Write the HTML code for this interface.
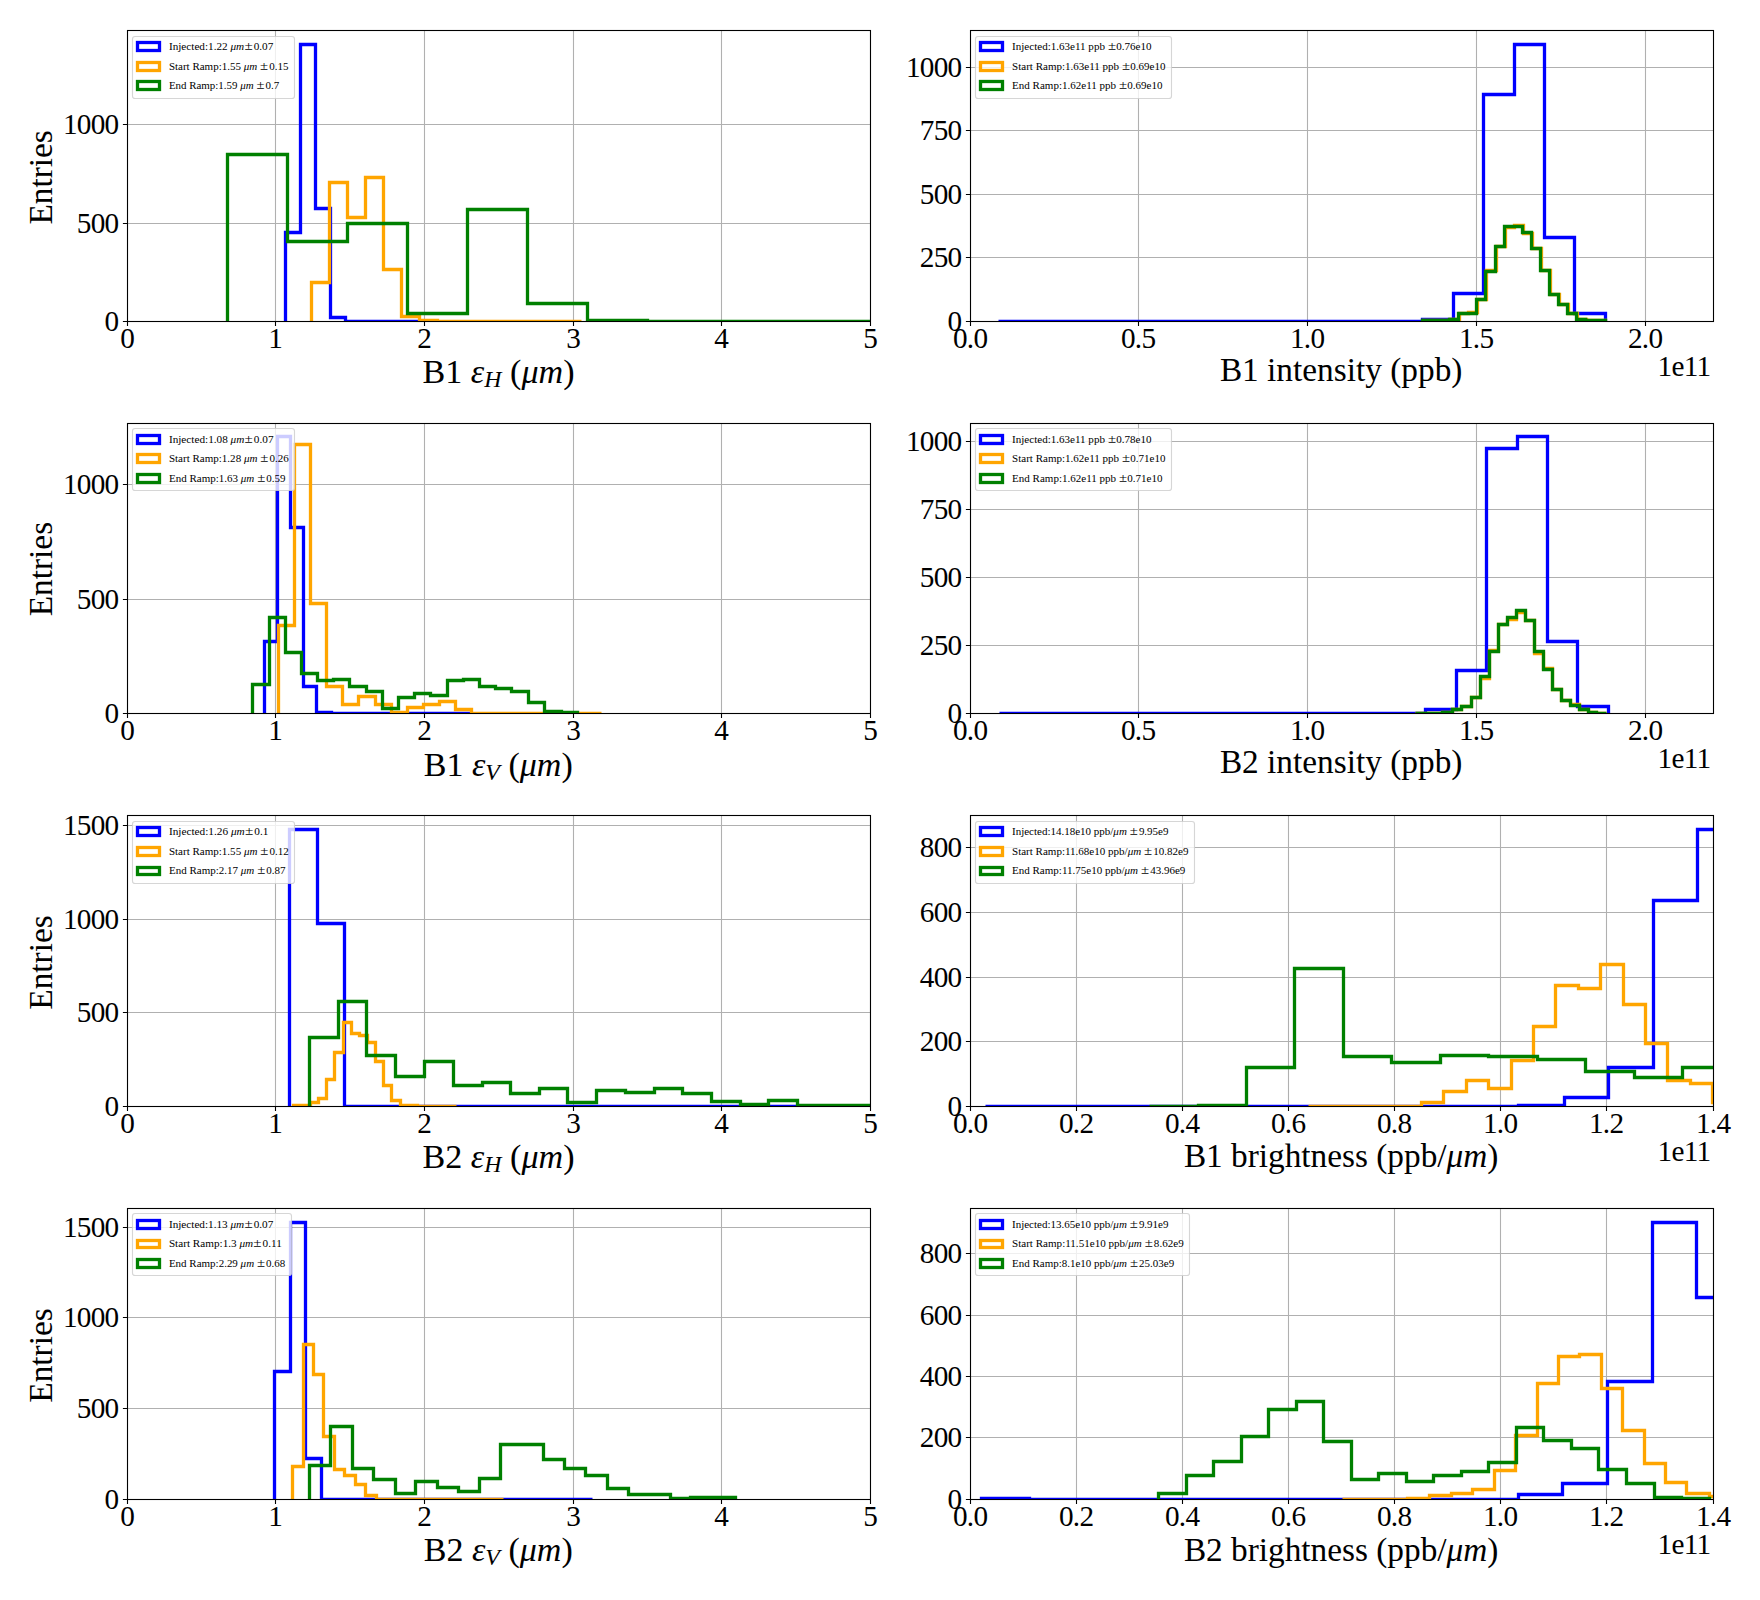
<!DOCTYPE html>
<html lang="en"><head><meta charset="utf-8"><title>Emittance, intensity and brightness histograms</title>
<style>html,body{margin:0;padding:0;background:#fff}body{width:1760px;height:1600px;overflow:hidden}svg{display:block}text{font-family:'Liberation Serif', serif;fill:#000;white-space:pre}</style>
</head><body>
<svg width="1760" height="1600" viewBox="0 0 1760 1600" role="img" aria-label="Histograms of emittance, intensity and brightness">
<rect width="1760" height="1600" fill="#fff"/>
<g id="panel1">
<clipPath id="c0"><rect x="127.5" y="30.5" width="743" height="291"/></clipPath>
<path d="M127.5 30.5V321.5M275.5 30.5V321.5M424.5 30.5V321.5M573.5 30.5V321.5M721.5 30.5V321.5M870.5 30.5V321.5M127.5 321.5H870.5M127.5 223.5H870.5M127.5 124.5H870.5" stroke="#b0b0b0" stroke-width="1.1" fill="none" clip-path="url(#c0)"/>
<g clip-path="url(#c0)" fill="none" stroke-width="3.3" stroke-linejoin="miter">
<path d="M285.5 321.5V232.5H300.5V44.5H315.5V208.5H330.5V317.5H345.5V321.5H420.5V321.5" stroke="#0000ff"/>
<path d="M311.5 321.5V282.5H329.5V182.5H347.5V217.5H365.5V177.5H383.5V269.5H401.5V316.5H419.5V320.5H437.5V321.5H581.5V321.5" stroke="#ffa500"/>
<path d="M227.5 321.5V154.5H287.5V241.5H347.5V223.5H407.5V313.5H467.5V209.5H527.5V303.5H587.5V320.5H647.5V321.5H900.5V321.5" stroke="#008000"/>
</g>
<path d="M127.5 321.5v4.6M275.5 321.5v4.6M424.5 321.5v4.6M573.5 321.5v4.6M721.5 321.5v4.6M870.5 321.5v4.6M127.5 321.5h-4.6M127.5 223.5h-4.6M127.5 124.5h-4.6" stroke="#000" stroke-width="1.1" fill="none"/>
<rect x="127.5" y="30.5" width="743" height="291" fill="none" stroke="#000" stroke-width="1.1"/>
<text id="p0x0" transform="translate(127.15 348.2) scale(1.0300 1)" font-size="28.4" text-anchor="middle" letter-spacing="-0.7" xml:space="preserve">0</text>
<text id="p0x1" transform="translate(275.15 348.2) scale(1.0300 1)" font-size="28.4" text-anchor="middle" letter-spacing="-0.7" xml:space="preserve">1</text>
<text id="p0x2" transform="translate(424.15 348.2) scale(1.0300 1)" font-size="28.4" text-anchor="middle" letter-spacing="-0.7" xml:space="preserve">2</text>
<text id="p0x3" transform="translate(573.15 348.2) scale(1.0300 1)" font-size="28.4" text-anchor="middle" letter-spacing="-0.7" xml:space="preserve">3</text>
<text id="p0x4" transform="translate(721.15 348.2) scale(1.0300 1)" font-size="28.4" text-anchor="middle" letter-spacing="-0.7" xml:space="preserve">4</text>
<text id="p0x5" transform="translate(870.15 348.2) scale(1.0300 1)" font-size="28.4" text-anchor="middle" letter-spacing="-0.7" xml:space="preserve">5</text>
<text id="p0y0" transform="translate(118.5 331.1) scale(1.0300 1)" font-size="28.4" text-anchor="end" letter-spacing="-0.7" xml:space="preserve">0</text>
<text id="p0y500" transform="translate(118.5 233.1) scale(1.0300 1)" font-size="28.4" text-anchor="end" letter-spacing="-0.7" xml:space="preserve">500</text>
<text id="p0y1000" transform="translate(118.5 134.1) scale(1.0300 1)" font-size="28.4" text-anchor="end" letter-spacing="-0.7" xml:space="preserve">1000</text>
<text id="p0xl" transform="translate(422.5 383.1) scale(1.0065 1)" font-size="33.9" text-anchor="start" xml:space="preserve"><tspan>B1 </tspan><tspan font-style="italic">ε</tspan><tspan font-style="italic" font-size="23.73" dy="4">H</tspan><tspan dy="-4"> (</tspan><tspan font-style="italic">μm</tspan><tspan>)</tspan></text>
<text id="p0yl" transform="translate(52.2 177.4) rotate(-90) scale(0.983 1)" font-size="33.9" text-anchor="middle">Entries</text>
<g id="legend1">
<rect x="132.5" y="36.5" width="162" height="62" rx="2.6" fill="#fff" fill-opacity="0.8" stroke="#ccc" stroke-opacity="0.8" stroke-width="1.1"/>
<rect x="137.5" y="42.5" width="22" height="8" fill="none" stroke="#0000ff" stroke-width="3.3"/>
<text id="p0l0" transform="translate(168.9 49.8) scale(1.1218 1)" font-size="10" text-anchor="start" xml:space="preserve"><tspan>Injected:1.22 </tspan><tspan font-style="italic">μm</tspan><tspan></tspan><tspan font-size="13.4" dx="0.2">±</tspan><tspan dx="0.9">0.07</tspan></text>
<rect x="137.5" y="62.5" width="22" height="8" fill="none" stroke="#ffa500" stroke-width="3.3"/>
<text id="p0l1" transform="translate(168.9 69.5) scale(1.1005 1)" font-size="10" text-anchor="start" xml:space="preserve"><tspan>Start Ramp:1.55 </tspan><tspan font-style="italic">μm</tspan><tspan> </tspan><tspan font-size="13.4" dx="0.2">±</tspan><tspan dx="0.9">0.15</tspan></text>
<rect x="137.5" y="81.5" width="22" height="8" fill="none" stroke="#008000" stroke-width="3.3"/>
<text id="p0l2" transform="translate(168.9 88.7) scale(1.0934 1)" font-size="10" text-anchor="start" xml:space="preserve"><tspan>End Ramp:1.59 </tspan><tspan font-style="italic">μm</tspan><tspan> </tspan><tspan font-size="13.4" dx="0.2">±</tspan><tspan dx="0.9">0.7</tspan></text>
</g>
</g>
<g id="panel2">
<clipPath id="c1"><rect x="970.5" y="30.5" width="743" height="291"/></clipPath>
<path d="M970.5 30.5V321.5M1138.5 30.5V321.5M1307.5 30.5V321.5M1476.5 30.5V321.5M1645.5 30.5V321.5M970.5 321.5H1713.5M970.5 257.5H1713.5M970.5 194.5H1713.5M970.5 130.5H1713.5M970.5 67.5H1713.5" stroke="#b0b0b0" stroke-width="1.1" fill="none" clip-path="url(#c1)"/>
<g clip-path="url(#c1)" fill="none" stroke-width="3.3" stroke-linejoin="miter">
<path d="M998.5 321.5V321.5H1422.5V319.5H1453.5V293.5H1483.5V94.5H1514.5V44.5H1544.5V237.5H1574.5V313.5H1605.5V321.5" stroke="#0000ff"/>
<path d="M1423.5 321.5V320.5H1450.5V319.5H1459.5V313.5H1468.5V312.5H1477.5V299.5H1486.5V270.5H1496.5V246.5H1505.5V227.5H1514.5V225.5H1523.5V233.5H1532.5V248.5H1541.5V270.5H1550.5V294.5H1559.5V304.5H1568.5V313.5H1577.5V319.5H1586.5V320.5H1605.5V321.5" stroke="#ffa500"/>
<path d="M1422.5 321.5V320.5H1449.5V319.5H1458.5V313.5H1476.5V299.5H1485.5V271.5H1495.5V246.5H1504.5V226.5H1522.5V232.5H1531.5V248.5H1540.5V270.5H1549.5V294.5H1558.5V304.5H1567.5V313.5H1576.5V319.5H1585.5V320.5H1605.5V321.5" stroke="#008000"/>
</g>
<path d="M970.5 321.5v4.6M1138.5 321.5v4.6M1307.5 321.5v4.6M1476.5 321.5v4.6M1645.5 321.5v4.6M970.5 321.5h-4.6M970.5 257.5h-4.6M970.5 194.5h-4.6M970.5 130.5h-4.6M970.5 67.5h-4.6" stroke="#000" stroke-width="1.1" fill="none"/>
<rect x="970.5" y="30.5" width="743" height="291" fill="none" stroke="#000" stroke-width="1.1"/>
<text id="p1x0_0" transform="translate(970.15 348.2) scale(1.0300 1)" font-size="28.4" text-anchor="middle" letter-spacing="-0.7" xml:space="preserve">0.0</text>
<text id="p1x0_5" transform="translate(1138.15 348.2) scale(1.0300 1)" font-size="28.4" text-anchor="middle" letter-spacing="-0.7" xml:space="preserve">0.5</text>
<text id="p1x1_0" transform="translate(1307.15 348.2) scale(1.0300 1)" font-size="28.4" text-anchor="middle" letter-spacing="-0.7" xml:space="preserve">1.0</text>
<text id="p1x1_5" transform="translate(1476.15 348.2) scale(1.0300 1)" font-size="28.4" text-anchor="middle" letter-spacing="-0.7" xml:space="preserve">1.5</text>
<text id="p1x2_0" transform="translate(1645.15 348.2) scale(1.0300 1)" font-size="28.4" text-anchor="middle" letter-spacing="-0.7" xml:space="preserve">2.0</text>
<text id="p1y0" transform="translate(961.5 331.1) scale(1.0300 1)" font-size="28.4" text-anchor="end" letter-spacing="-0.7" xml:space="preserve">0</text>
<text id="p1y250" transform="translate(961.5 267.1) scale(1.0300 1)" font-size="28.4" text-anchor="end" letter-spacing="-0.7" xml:space="preserve">250</text>
<text id="p1y500" transform="translate(961.5 204.1) scale(1.0300 1)" font-size="28.4" text-anchor="end" letter-spacing="-0.7" xml:space="preserve">500</text>
<text id="p1y750" transform="translate(961.5 140.1) scale(1.0300 1)" font-size="28.4" text-anchor="end" letter-spacing="-0.7" xml:space="preserve">750</text>
<text id="p1y1000" transform="translate(961.5 77.1) scale(1.0300 1)" font-size="28.4" text-anchor="end" letter-spacing="-0.7" xml:space="preserve">1000</text>
<text id="p1off" transform="translate(1710.4 376.1) scale(1.0300 1)" font-size="28.4" text-anchor="end" letter-spacing="-0.7" xml:space="preserve">1e11</text>
<text id="p1xl" transform="translate(1219.9 381) scale(0.9830 1)" font-size="33.9" text-anchor="start" xml:space="preserve"><tspan>B1 intensity (ppb)</tspan></text>
<g id="legend2">
<rect x="975.5" y="36.5" width="196" height="62" rx="2.6" fill="#fff" fill-opacity="0.8" stroke="#ccc" stroke-opacity="0.8" stroke-width="1.1"/>
<rect x="980.5" y="42.5" width="22" height="8" fill="none" stroke="#0000ff" stroke-width="3.3"/>
<text id="p1l0" transform="translate(1012.1 49.8) scale(1.1054 1)" font-size="10" text-anchor="start" xml:space="preserve"><tspan>Injected:1.63e11 ppb </tspan><tspan font-size="13.4" dx="0.2">±</tspan><tspan dx="0.2">0.76e10</tspan></text>
<rect x="980.5" y="62.5" width="22" height="8" fill="none" stroke="#ffa500" stroke-width="3.3"/>
<text id="p1l1" transform="translate(1012.1 69.5) scale(1.1018 1)" font-size="10" text-anchor="start" xml:space="preserve"><tspan>Start Ramp:1.63e11 ppb </tspan><tspan font-size="13.4" dx="0.2">±</tspan><tspan dx="0.2">0.69e10</tspan></text>
<rect x="980.5" y="81.5" width="22" height="8" fill="none" stroke="#008000" stroke-width="3.3"/>
<text id="p1l2" transform="translate(1012.1 88.7) scale(1.1023 1)" font-size="10" text-anchor="start" xml:space="preserve"><tspan>End Ramp:1.62e11 ppb </tspan><tspan font-size="13.4" dx="0.2">±</tspan><tspan dx="0.2">0.69e10</tspan></text>
</g>
</g>
<g id="panel3">
<clipPath id="c2"><rect x="127.5" y="423.5" width="743" height="290"/></clipPath>
<path d="M127.5 423.5V713.5M275.5 423.5V713.5M424.5 423.5V713.5M573.5 423.5V713.5M721.5 423.5V713.5M870.5 423.5V713.5M127.5 713.5H870.5M127.5 599.5H870.5M127.5 484.5H870.5" stroke="#b0b0b0" stroke-width="1.1" fill="none" clip-path="url(#c2)"/>
<g clip-path="url(#c2)" fill="none" stroke-width="3.3" stroke-linejoin="miter">
<path d="M264.5 713.5V641.5H277.5V436.5H290.5V527.5H303.5V686.5H316.5V712.5H331.5V713.5H471.5V713.5" stroke="#0000ff"/>
<path d="M278.5 713.5V625.5H294.5V444.5H310.5V603.5H326.5V686.5H342.5V704.5H358.5V696.5H375.5V704.5H391.5V712.5H407.5V707.5H423.5V704.5H439.5V701.5H455.5V709.5H471.5V713.5H601.5V713.5" stroke="#ffa500"/>
<path d="M252.5 713.5V684.5H269.5V617.5H285.5V652.5H301.5V673.5H317.5V680.5H333.5V679.5H349.5V686.5H366.5V691.5H382.5V708.5H398.5V697.5H414.5V693.5H430.5V695.5H447.5V680.5H463.5V679.5H479.5V686.5H495.5V688.5H511.5V691.5H528.5V702.5H544.5V711.5H561.5V712.5H577.5V713.5" stroke="#008000"/>
</g>
<path d="M127.5 713.5v4.6M275.5 713.5v4.6M424.5 713.5v4.6M573.5 713.5v4.6M721.5 713.5v4.6M870.5 713.5v4.6M127.5 713.5h-4.6M127.5 599.5h-4.6M127.5 484.5h-4.6" stroke="#000" stroke-width="1.1" fill="none"/>
<rect x="127.5" y="423.5" width="743" height="290" fill="none" stroke="#000" stroke-width="1.1"/>
<text id="p2x0" transform="translate(127.15 740.2) scale(1.0300 1)" font-size="28.4" text-anchor="middle" letter-spacing="-0.7" xml:space="preserve">0</text>
<text id="p2x1" transform="translate(275.15 740.2) scale(1.0300 1)" font-size="28.4" text-anchor="middle" letter-spacing="-0.7" xml:space="preserve">1</text>
<text id="p2x2" transform="translate(424.15 740.2) scale(1.0300 1)" font-size="28.4" text-anchor="middle" letter-spacing="-0.7" xml:space="preserve">2</text>
<text id="p2x3" transform="translate(573.15 740.2) scale(1.0300 1)" font-size="28.4" text-anchor="middle" letter-spacing="-0.7" xml:space="preserve">3</text>
<text id="p2x4" transform="translate(721.15 740.2) scale(1.0300 1)" font-size="28.4" text-anchor="middle" letter-spacing="-0.7" xml:space="preserve">4</text>
<text id="p2x5" transform="translate(870.15 740.2) scale(1.0300 1)" font-size="28.4" text-anchor="middle" letter-spacing="-0.7" xml:space="preserve">5</text>
<text id="p2y0" transform="translate(118.5 723.1) scale(1.0300 1)" font-size="28.4" text-anchor="end" letter-spacing="-0.7" xml:space="preserve">0</text>
<text id="p2y500" transform="translate(118.5 609.1) scale(1.0300 1)" font-size="28.4" text-anchor="end" letter-spacing="-0.7" xml:space="preserve">500</text>
<text id="p2y1000" transform="translate(118.5 494.1) scale(1.0300 1)" font-size="28.4" text-anchor="end" letter-spacing="-0.7" xml:space="preserve">1000</text>
<text id="p2xl" transform="translate(423.8 776) scale(1.0034 1)" font-size="33.9" text-anchor="start" xml:space="preserve"><tspan>B1 </tspan><tspan font-style="italic">ε</tspan><tspan font-style="italic" font-size="23.73" dy="4">V</tspan><tspan dy="-4"> (</tspan><tspan font-style="italic">μm</tspan><tspan>)</tspan></text>
<text id="p2yl" transform="translate(52.2 569.1) rotate(-90) scale(0.983 1)" font-size="33.9" text-anchor="middle">Entries</text>
<g id="legend3">
<rect x="132.5" y="428.5" width="162" height="62" rx="2.6" fill="#fff" fill-opacity="0.8" stroke="#ccc" stroke-opacity="0.8" stroke-width="1.1"/>
<rect x="137.5" y="435.5" width="22" height="8" fill="none" stroke="#0000ff" stroke-width="3.3"/>
<text id="p2l0" transform="translate(168.9 442.9) scale(1.1237 1)" font-size="10" text-anchor="start" xml:space="preserve"><tspan>Injected:1.08 </tspan><tspan font-style="italic">μm</tspan><tspan></tspan><tspan font-size="13.4" dx="0.2">±</tspan><tspan dx="0.9">0.07</tspan></text>
<rect x="137.5" y="454.5" width="22" height="8" fill="none" stroke="#ffa500" stroke-width="3.3"/>
<text id="p2l1" transform="translate(168.9 462) scale(1.1035 1)" font-size="10" text-anchor="start" xml:space="preserve"><tspan>Start Ramp:1.28 </tspan><tspan font-style="italic">μm</tspan><tspan> </tspan><tspan font-size="13.4" dx="0.2">±</tspan><tspan dx="0.9">0.26</tspan></text>
<rect x="137.5" y="474.5" width="22" height="8" fill="none" stroke="#008000" stroke-width="3.3"/>
<text id="p2l2" transform="translate(168.9 481.9) scale(1.1020 1)" font-size="10" text-anchor="start" xml:space="preserve"><tspan>End Ramp:1.63 </tspan><tspan font-style="italic">μm</tspan><tspan> </tspan><tspan font-size="13.4" dx="0.2">±</tspan><tspan dx="0.9">0.59</tspan></text>
</g>
</g>
<g id="panel4">
<clipPath id="c3"><rect x="970.5" y="423.5" width="743" height="290"/></clipPath>
<path d="M970.5 423.5V713.5M1138.5 423.5V713.5M1307.5 423.5V713.5M1476.5 423.5V713.5M1645.5 423.5V713.5M970.5 713.5H1713.5M970.5 645.5H1713.5M970.5 577.5H1713.5M970.5 509.5H1713.5M970.5 441.5H1713.5" stroke="#b0b0b0" stroke-width="1.1" fill="none" clip-path="url(#c3)"/>
<g clip-path="url(#c3)" fill="none" stroke-width="3.3" stroke-linejoin="miter">
<path d="M999.5 713.5V713.5H1425.5V709.5H1456.5V670.5H1486.5V448.5H1517.5V436.5H1547.5V641.5H1577.5V706.5H1608.5V713.5" stroke="#0000ff"/>
<path d="M1415.5 713.5V713.5H1442.5V712.5H1452.5V709.5H1461.5V706.5H1471.5V697.5H1480.5V678.5H1489.5V650.5H1498.5V624.5H1507.5V619.5H1516.5V612.5H1525.5V620.5H1534.5V653.5H1543.5V668.5H1552.5V689.5H1561.5V700.5H1570.5V704.5H1579.5V709.5H1588.5V712.5H1596.5V713.5H1606.5V713.5" stroke="#ffa500"/>
<path d="M1415.5 713.5V713.5H1442.5V712.5H1452.5V709.5H1461.5V706.5H1471.5V697.5H1480.5V676.5H1489.5V651.5H1498.5V624.5H1507.5V617.5H1516.5V610.5H1525.5V620.5H1534.5V651.5H1543.5V669.5H1552.5V689.5H1561.5V700.5H1570.5V705.5H1579.5V709.5H1588.5V712.5H1596.5V713.5H1606.5V713.5" stroke="#008000"/>
</g>
<path d="M970.5 713.5v4.6M1138.5 713.5v4.6M1307.5 713.5v4.6M1476.5 713.5v4.6M1645.5 713.5v4.6M970.5 713.5h-4.6M970.5 645.5h-4.6M970.5 577.5h-4.6M970.5 509.5h-4.6M970.5 441.5h-4.6" stroke="#000" stroke-width="1.1" fill="none"/>
<rect x="970.5" y="423.5" width="743" height="290" fill="none" stroke="#000" stroke-width="1.1"/>
<text id="p3x0_0" transform="translate(970.15 740.2) scale(1.0300 1)" font-size="28.4" text-anchor="middle" letter-spacing="-0.7" xml:space="preserve">0.0</text>
<text id="p3x0_5" transform="translate(1138.15 740.2) scale(1.0300 1)" font-size="28.4" text-anchor="middle" letter-spacing="-0.7" xml:space="preserve">0.5</text>
<text id="p3x1_0" transform="translate(1307.15 740.2) scale(1.0300 1)" font-size="28.4" text-anchor="middle" letter-spacing="-0.7" xml:space="preserve">1.0</text>
<text id="p3x1_5" transform="translate(1476.15 740.2) scale(1.0300 1)" font-size="28.4" text-anchor="middle" letter-spacing="-0.7" xml:space="preserve">1.5</text>
<text id="p3x2_0" transform="translate(1645.15 740.2) scale(1.0300 1)" font-size="28.4" text-anchor="middle" letter-spacing="-0.7" xml:space="preserve">2.0</text>
<text id="p3y0" transform="translate(961.5 723.1) scale(1.0300 1)" font-size="28.4" text-anchor="end" letter-spacing="-0.7" xml:space="preserve">0</text>
<text id="p3y250" transform="translate(961.5 655.1) scale(1.0300 1)" font-size="28.4" text-anchor="end" letter-spacing="-0.7" xml:space="preserve">250</text>
<text id="p3y500" transform="translate(961.5 587.1) scale(1.0300 1)" font-size="28.4" text-anchor="end" letter-spacing="-0.7" xml:space="preserve">500</text>
<text id="p3y750" transform="translate(961.5 519.1) scale(1.0300 1)" font-size="28.4" text-anchor="end" letter-spacing="-0.7" xml:space="preserve">750</text>
<text id="p3y1000" transform="translate(961.5 451.1) scale(1.0300 1)" font-size="28.4" text-anchor="end" letter-spacing="-0.7" xml:space="preserve">1000</text>
<text id="p3off" transform="translate(1710.4 768.1) scale(1.0300 1)" font-size="28.4" text-anchor="end" letter-spacing="-0.7" xml:space="preserve">1e11</text>
<text id="p3xl" transform="translate(1219.9 773.2) scale(0.9830 1)" font-size="33.9" text-anchor="start" xml:space="preserve"><tspan>B2 intensity (ppb)</tspan></text>
<g id="legend4">
<rect x="975.5" y="428.5" width="196" height="62" rx="2.6" fill="#fff" fill-opacity="0.8" stroke="#ccc" stroke-opacity="0.8" stroke-width="1.1"/>
<rect x="980.5" y="435.5" width="22" height="8" fill="none" stroke="#0000ff" stroke-width="3.3"/>
<text id="p3l0" transform="translate(1012.1 442.9) scale(1.1054 1)" font-size="10" text-anchor="start" xml:space="preserve"><tspan>Injected:1.63e11 ppb </tspan><tspan font-size="13.4" dx="0.2">±</tspan><tspan dx="0.2">0.78e10</tspan></text>
<rect x="980.5" y="454.5" width="22" height="8" fill="none" stroke="#ffa500" stroke-width="3.3"/>
<text id="p3l1" transform="translate(1012.1 462) scale(1.1018 1)" font-size="10" text-anchor="start" xml:space="preserve"><tspan>Start Ramp:1.62e11 ppb </tspan><tspan font-size="13.4" dx="0.2">±</tspan><tspan dx="0.2">0.71e10</tspan></text>
<rect x="980.5" y="474.5" width="22" height="8" fill="none" stroke="#008000" stroke-width="3.3"/>
<text id="p3l2" transform="translate(1012.1 481.9) scale(1.1023 1)" font-size="10" text-anchor="start" xml:space="preserve"><tspan>End Ramp:1.62e11 ppb </tspan><tspan font-size="13.4" dx="0.2">±</tspan><tspan dx="0.2">0.71e10</tspan></text>
</g>
</g>
<g id="panel5">
<clipPath id="c4"><rect x="127.5" y="815.5" width="743" height="291"/></clipPath>
<path d="M127.5 815.5V1106.5M275.5 815.5V1106.5M424.5 815.5V1106.5M573.5 815.5V1106.5M721.5 815.5V1106.5M870.5 815.5V1106.5M127.5 1106.5H870.5M127.5 1012.5H870.5M127.5 919.5H870.5M127.5 825.5H870.5" stroke="#b0b0b0" stroke-width="1.1" fill="none" clip-path="url(#c4)"/>
<g clip-path="url(#c4)" fill="none" stroke-width="3.3" stroke-linejoin="miter">
<path d="M289.5 1106.5V829.5H317.5V923.5H344.5V1106.5H900.5V1106.5" stroke="#0000ff"/>
<path d="M293.5 1106.5V1105.5H310.5V1102.5H318.5V1098.5H326.5V1079.5H334.5V1052.5H343.5V1022.5H351.5V1033.5H359.5V1035.5H367.5V1042.5H375.5V1061.5H383.5V1085.5H391.5V1100.5H400.5V1105.5H417.5V1106.5H456.5V1106.5" stroke="#ffa500"/>
<path d="M309.5 1106.5V1037.5H338.5V1001.5H366.5V1055.5H395.5V1076.5H424.5V1061.5H453.5V1085.5H482.5V1082.5H510.5V1093.5H539.5V1088.5H567.5V1102.5H596.5V1090.5H625.5V1092.5H654.5V1088.5H682.5V1093.5H711.5V1101.5H740.5V1104.5H768.5V1100.5H797.5V1105.5H900.5V1106.5" stroke="#008000"/>
</g>
<path d="M127.5 1106.5v4.6M275.5 1106.5v4.6M424.5 1106.5v4.6M573.5 1106.5v4.6M721.5 1106.5v4.6M870.5 1106.5v4.6M127.5 1106.5h-4.6M127.5 1012.5h-4.6M127.5 919.5h-4.6M127.5 825.5h-4.6" stroke="#000" stroke-width="1.1" fill="none"/>
<rect x="127.5" y="815.5" width="743" height="291" fill="none" stroke="#000" stroke-width="1.1"/>
<text id="p4x0" transform="translate(127.15 1133.2) scale(1.0300 1)" font-size="28.4" text-anchor="middle" letter-spacing="-0.7" xml:space="preserve">0</text>
<text id="p4x1" transform="translate(275.15 1133.2) scale(1.0300 1)" font-size="28.4" text-anchor="middle" letter-spacing="-0.7" xml:space="preserve">1</text>
<text id="p4x2" transform="translate(424.15 1133.2) scale(1.0300 1)" font-size="28.4" text-anchor="middle" letter-spacing="-0.7" xml:space="preserve">2</text>
<text id="p4x3" transform="translate(573.15 1133.2) scale(1.0300 1)" font-size="28.4" text-anchor="middle" letter-spacing="-0.7" xml:space="preserve">3</text>
<text id="p4x4" transform="translate(721.15 1133.2) scale(1.0300 1)" font-size="28.4" text-anchor="middle" letter-spacing="-0.7" xml:space="preserve">4</text>
<text id="p4x5" transform="translate(870.15 1133.2) scale(1.0300 1)" font-size="28.4" text-anchor="middle" letter-spacing="-0.7" xml:space="preserve">5</text>
<text id="p4y0" transform="translate(118.5 1116.1) scale(1.0300 1)" font-size="28.4" text-anchor="end" letter-spacing="-0.7" xml:space="preserve">0</text>
<text id="p4y500" transform="translate(118.5 1022.1) scale(1.0300 1)" font-size="28.4" text-anchor="end" letter-spacing="-0.7" xml:space="preserve">500</text>
<text id="p4y1000" transform="translate(118.5 929.1) scale(1.0300 1)" font-size="28.4" text-anchor="end" letter-spacing="-0.7" xml:space="preserve">1000</text>
<text id="p4y1500" transform="translate(118.5 835.1) scale(1.0300 1)" font-size="28.4" text-anchor="end" letter-spacing="-0.7" xml:space="preserve">1500</text>
<text id="p4xl" transform="translate(422.5 1168.1) scale(1.0065 1)" font-size="33.9" text-anchor="start" xml:space="preserve"><tspan>B2 </tspan><tspan font-style="italic">ε</tspan><tspan font-style="italic" font-size="23.73" dy="4">H</tspan><tspan dy="-4"> (</tspan><tspan font-style="italic">μm</tspan><tspan>)</tspan></text>
<text id="p4yl" transform="translate(52.2 962.5) rotate(-90) scale(0.983 1)" font-size="33.9" text-anchor="middle">Entries</text>
<g id="legend5">
<rect x="132.5" y="821.5" width="162" height="62" rx="2.6" fill="#fff" fill-opacity="0.8" stroke="#ccc" stroke-opacity="0.8" stroke-width="1.1"/>
<rect x="137.5" y="827.5" width="22" height="8" fill="none" stroke="#0000ff" stroke-width="3.3"/>
<text id="p4l0" transform="translate(168.9 834.8) scale(1.1283 1)" font-size="10" text-anchor="start" xml:space="preserve"><tspan>Injected:1.26 </tspan><tspan font-style="italic">μm</tspan><tspan></tspan><tspan font-size="13.4" dx="0.2">±</tspan><tspan dx="0.9">0.1</tspan></text>
<rect x="137.5" y="847.5" width="22" height="8" fill="none" stroke="#ffa500" stroke-width="3.3"/>
<text id="p4l1" transform="translate(168.9 855) scale(1.1035 1)" font-size="10" text-anchor="start" xml:space="preserve"><tspan>Start Ramp:1.55 </tspan><tspan font-style="italic">μm</tspan><tspan> </tspan><tspan font-size="13.4" dx="0.2">±</tspan><tspan dx="0.9">0.12</tspan></text>
<rect x="137.5" y="867.5" width="22" height="7" fill="none" stroke="#008000" stroke-width="3.3"/>
<text id="p4l2" transform="translate(168.9 874) scale(1.1020 1)" font-size="10" text-anchor="start" xml:space="preserve"><tspan>End Ramp:2.17 </tspan><tspan font-style="italic">μm</tspan><tspan> </tspan><tspan font-size="13.4" dx="0.2">±</tspan><tspan dx="0.9">0.87</tspan></text>
</g>
</g>
<g id="panel6">
<clipPath id="c5"><rect x="970.5" y="815.5" width="743" height="291"/></clipPath>
<path d="M970.5 815.5V1106.5M1076.5 815.5V1106.5M1182.5 815.5V1106.5M1288.5 815.5V1106.5M1394.5 815.5V1106.5M1500.5 815.5V1106.5M1606.5 815.5V1106.5M1713.5 815.5V1106.5M970.5 1106.5H1713.5M970.5 1041.5H1713.5M970.5 977.5H1713.5M970.5 912.5H1713.5M970.5 847.5H1713.5" stroke="#b0b0b0" stroke-width="1.1" fill="none" clip-path="url(#c5)"/>
<g clip-path="url(#c5)" fill="none" stroke-width="3.3" stroke-linejoin="miter">
<path d="M985.5 1106.5V1106.5H1518.5V1105.5H1564.5V1097.5H1608.5V1067.5H1653.5V900.5H1697.5V829.5H1760.5V1106.5" stroke="#0000ff"/>
<path d="M1308.5 1106.5V1106.5H1421.5V1102.5H1443.5V1091.5H1466.5V1080.5H1488.5V1088.5H1511.5V1060.5H1533.5V1026.5H1555.5V985.5H1578.5V988.5H1600.5V964.5H1623.5V1004.5H1645.5V1043.5H1667.5V1080.5H1690.5V1083.5H1712.5V1102.5H1734.5V1106.5" stroke="#ffa500"/>
<path d="M1149.5 1106.5V1106.5H1198.5V1105.5H1246.5V1067.5H1294.5V968.5H1343.5V1056.5H1391.5V1062.5H1440.5V1055.5H1488.5V1056.5H1537.5V1059.5H1585.5V1071.5H1634.5V1077.5H1682.5V1067.5H1760.5V1106.5" stroke="#008000"/>
</g>
<path d="M970.5 1106.5v4.6M1076.5 1106.5v4.6M1182.5 1106.5v4.6M1288.5 1106.5v4.6M1394.5 1106.5v4.6M1500.5 1106.5v4.6M1606.5 1106.5v4.6M1713.5 1106.5v4.6M970.5 1106.5h-4.6M970.5 1041.5h-4.6M970.5 977.5h-4.6M970.5 912.5h-4.6M970.5 847.5h-4.6" stroke="#000" stroke-width="1.1" fill="none"/>
<rect x="970.5" y="815.5" width="743" height="291" fill="none" stroke="#000" stroke-width="1.1"/>
<text id="p5x0_0" transform="translate(970.15 1133.2) scale(1.0300 1)" font-size="28.4" text-anchor="middle" letter-spacing="-0.7" xml:space="preserve">0.0</text>
<text id="p5x0_2" transform="translate(1076.15 1133.2) scale(1.0300 1)" font-size="28.4" text-anchor="middle" letter-spacing="-0.7" xml:space="preserve">0.2</text>
<text id="p5x0_4" transform="translate(1182.15 1133.2) scale(1.0300 1)" font-size="28.4" text-anchor="middle" letter-spacing="-0.7" xml:space="preserve">0.4</text>
<text id="p5x0_6" transform="translate(1288.15 1133.2) scale(1.0300 1)" font-size="28.4" text-anchor="middle" letter-spacing="-0.7" xml:space="preserve">0.6</text>
<text id="p5x0_8" transform="translate(1394.15 1133.2) scale(1.0300 1)" font-size="28.4" text-anchor="middle" letter-spacing="-0.7" xml:space="preserve">0.8</text>
<text id="p5x1_0" transform="translate(1500.15 1133.2) scale(1.0300 1)" font-size="28.4" text-anchor="middle" letter-spacing="-0.7" xml:space="preserve">1.0</text>
<text id="p5x1_2" transform="translate(1606.15 1133.2) scale(1.0300 1)" font-size="28.4" text-anchor="middle" letter-spacing="-0.7" xml:space="preserve">1.2</text>
<text id="p5x1_4" transform="translate(1713.15 1133.2) scale(1.0300 1)" font-size="28.4" text-anchor="middle" letter-spacing="-0.7" xml:space="preserve">1.4</text>
<text id="p5y0" transform="translate(961.5 1116.1) scale(1.0300 1)" font-size="28.4" text-anchor="end" letter-spacing="-0.7" xml:space="preserve">0</text>
<text id="p5y200" transform="translate(961.5 1051.1) scale(1.0300 1)" font-size="28.4" text-anchor="end" letter-spacing="-0.7" xml:space="preserve">200</text>
<text id="p5y400" transform="translate(961.5 987.1) scale(1.0300 1)" font-size="28.4" text-anchor="end" letter-spacing="-0.7" xml:space="preserve">400</text>
<text id="p5y600" transform="translate(961.5 922.1) scale(1.0300 1)" font-size="28.4" text-anchor="end" letter-spacing="-0.7" xml:space="preserve">600</text>
<text id="p5y800" transform="translate(961.5 857.1) scale(1.0300 1)" font-size="28.4" text-anchor="end" letter-spacing="-0.7" xml:space="preserve">800</text>
<text id="p5off" transform="translate(1710.4 1161.1) scale(1.0300 1)" font-size="28.4" text-anchor="end" letter-spacing="-0.7" xml:space="preserve">1e11</text>
<text id="p5xl" transform="translate(1183.9 1167.3) scale(0.9824 1)" font-size="33.9" text-anchor="start" xml:space="preserve"><tspan>B1 brightness (ppb/</tspan><tspan font-style="italic">μm</tspan><tspan>)</tspan></text>
<g id="legend6">
<rect x="975.5" y="821.5" width="219" height="62" rx="2.6" fill="#fff" fill-opacity="0.8" stroke="#ccc" stroke-opacity="0.8" stroke-width="1.1"/>
<rect x="980.5" y="827.5" width="22" height="8" fill="none" stroke="#0000ff" stroke-width="3.3"/>
<text id="p5l0" transform="translate(1012 834.8) scale(1.1012 1)" font-size="10" text-anchor="start" xml:space="preserve"><tspan>Injected:14.18e10 ppb/</tspan><tspan font-style="italic">μm</tspan><tspan> </tspan><tspan font-size="13.4" dx="0.2">±</tspan><tspan dx="0.9">9.95e9</tspan></text>
<rect x="980.5" y="847.5" width="22" height="8" fill="none" stroke="#ffa500" stroke-width="3.3"/>
<text id="p5l1" transform="translate(1012 855) scale(1.1042 1)" font-size="10" text-anchor="start" xml:space="preserve"><tspan>Start Ramp:11.68e10 ppb/</tspan><tspan font-style="italic">μm</tspan><tspan> </tspan><tspan font-size="13.4" dx="0.2">±</tspan><tspan dx="0.9">10.82e9</tspan></text>
<rect x="980.5" y="867.5" width="22" height="7" fill="none" stroke="#008000" stroke-width="3.3"/>
<text id="p5l2" transform="translate(1012 874) scale(1.1040 1)" font-size="10" text-anchor="start" xml:space="preserve"><tspan>End Ramp:11.75e10 ppb/</tspan><tspan font-style="italic">μm</tspan><tspan> </tspan><tspan font-size="13.4" dx="0.2">±</tspan><tspan dx="0.9">43.96e9</tspan></text>
</g>
</g>
<g id="panel7">
<clipPath id="c6"><rect x="127.5" y="1208.5" width="743" height="291"/></clipPath>
<path d="M127.5 1208.5V1499.5M275.5 1208.5V1499.5M424.5 1208.5V1499.5M573.5 1208.5V1499.5M721.5 1208.5V1499.5M870.5 1208.5V1499.5M127.5 1499.5H870.5M127.5 1408.5H870.5M127.5 1317.5H870.5M127.5 1227.5H870.5" stroke="#b0b0b0" stroke-width="1.1" fill="none" clip-path="url(#c6)"/>
<g clip-path="url(#c6)" fill="none" stroke-width="3.3" stroke-linejoin="miter">
<path d="M274.5 1499.5V1371.5H290.5V1222.5H305.5V1458.5H321.5V1499.5H592.5V1499.5" stroke="#0000ff"/>
<path d="M292.5 1499.5V1466.5H303.5V1344.5H313.5V1374.5H323.5V1436.5H334.5V1469.5H344.5V1475.5H355.5V1484.5H365.5V1495.5H376.5V1499.5H503.5V1499.5" stroke="#ffa500"/>
<path d="M309.5 1499.5V1465.5H330.5V1426.5H352.5V1468.5H373.5V1479.5H395.5V1493.5H415.5V1481.5H437.5V1487.5H458.5V1491.5H479.5V1478.5H500.5V1444.5H543.5V1459.5H564.5V1468.5H585.5V1475.5H607.5V1488.5H628.5V1494.5H670.5V1498.5H690.5V1497.5H735.5V1499.5" stroke="#008000"/>
</g>
<path d="M127.5 1499.5v4.6M275.5 1499.5v4.6M424.5 1499.5v4.6M573.5 1499.5v4.6M721.5 1499.5v4.6M870.5 1499.5v4.6M127.5 1499.5h-4.6M127.5 1408.5h-4.6M127.5 1317.5h-4.6M127.5 1227.5h-4.6" stroke="#000" stroke-width="1.1" fill="none"/>
<rect x="127.5" y="1208.5" width="743" height="291" fill="none" stroke="#000" stroke-width="1.1"/>
<text id="p6x0" transform="translate(127.15 1526.2) scale(1.0300 1)" font-size="28.4" text-anchor="middle" letter-spacing="-0.7" xml:space="preserve">0</text>
<text id="p6x1" transform="translate(275.15 1526.2) scale(1.0300 1)" font-size="28.4" text-anchor="middle" letter-spacing="-0.7" xml:space="preserve">1</text>
<text id="p6x2" transform="translate(424.15 1526.2) scale(1.0300 1)" font-size="28.4" text-anchor="middle" letter-spacing="-0.7" xml:space="preserve">2</text>
<text id="p6x3" transform="translate(573.15 1526.2) scale(1.0300 1)" font-size="28.4" text-anchor="middle" letter-spacing="-0.7" xml:space="preserve">3</text>
<text id="p6x4" transform="translate(721.15 1526.2) scale(1.0300 1)" font-size="28.4" text-anchor="middle" letter-spacing="-0.7" xml:space="preserve">4</text>
<text id="p6x5" transform="translate(870.15 1526.2) scale(1.0300 1)" font-size="28.4" text-anchor="middle" letter-spacing="-0.7" xml:space="preserve">5</text>
<text id="p6y0" transform="translate(118.5 1509.1) scale(1.0300 1)" font-size="28.4" text-anchor="end" letter-spacing="-0.7" xml:space="preserve">0</text>
<text id="p6y500" transform="translate(118.5 1418.1) scale(1.0300 1)" font-size="28.4" text-anchor="end" letter-spacing="-0.7" xml:space="preserve">500</text>
<text id="p6y1000" transform="translate(118.5 1327.1) scale(1.0300 1)" font-size="28.4" text-anchor="end" letter-spacing="-0.7" xml:space="preserve">1000</text>
<text id="p6y1500" transform="translate(118.5 1237.1) scale(1.0300 1)" font-size="28.4" text-anchor="end" letter-spacing="-0.7" xml:space="preserve">1500</text>
<text id="p6xl" transform="translate(423.8 1560.9) scale(1.0034 1)" font-size="33.9" text-anchor="start" xml:space="preserve"><tspan>B2 </tspan><tspan font-style="italic">ε</tspan><tspan font-style="italic" font-size="23.73" dy="4">V</tspan><tspan dy="-4"> (</tspan><tspan font-style="italic">μm</tspan><tspan>)</tspan></text>
<text id="p6yl" transform="translate(52.2 1355.5) rotate(-90) scale(0.983 1)" font-size="33.9" text-anchor="middle">Entries</text>
<g id="legend7">
<rect x="132.5" y="1213.5" width="159" height="62" rx="2.6" fill="#fff" fill-opacity="0.8" stroke="#ccc" stroke-opacity="0.8" stroke-width="1.1"/>
<rect x="137.5" y="1220.5" width="22" height="8" fill="none" stroke="#0000ff" stroke-width="3.3"/>
<text id="p6l0" transform="translate(168.9 1227.9) scale(1.1218 1)" font-size="10" text-anchor="start" xml:space="preserve"><tspan>Injected:1.13 </tspan><tspan font-style="italic">μm</tspan><tspan></tspan><tspan font-size="13.4" dx="0.2">±</tspan><tspan dx="0.9">0.07</tspan></text>
<rect x="137.5" y="1240.5" width="22" height="7" fill="none" stroke="#ffa500" stroke-width="3.3"/>
<text id="p6l1" transform="translate(168.9 1247) scale(1.1188 1)" font-size="10" text-anchor="start" xml:space="preserve"><tspan>Start Ramp:1.3 </tspan><tspan font-style="italic">μm</tspan><tspan></tspan><tspan font-size="13.4" dx="0.2">±</tspan><tspan dx="0.9">0.11</tspan></text>
<rect x="137.5" y="1259.5" width="22" height="8" fill="none" stroke="#008000" stroke-width="3.3"/>
<text id="p6l2" transform="translate(168.9 1266.9) scale(1.0997 1)" font-size="10" text-anchor="start" xml:space="preserve"><tspan>End Ramp:2.29 </tspan><tspan font-style="italic">μm</tspan><tspan> </tspan><tspan font-size="13.4" dx="0.2">±</tspan><tspan dx="0.9">0.68</tspan></text>
</g>
</g>
<g id="panel8">
<clipPath id="c7"><rect x="970.5" y="1208.5" width="743" height="291"/></clipPath>
<path d="M970.5 1208.5V1499.5M1076.5 1208.5V1499.5M1182.5 1208.5V1499.5M1288.5 1208.5V1499.5M1394.5 1208.5V1499.5M1500.5 1208.5V1499.5M1606.5 1208.5V1499.5M1713.5 1208.5V1499.5M970.5 1499.5H1713.5M970.5 1437.5H1713.5M970.5 1376.5H1713.5M970.5 1315.5H1713.5M970.5 1253.5H1713.5" stroke="#b0b0b0" stroke-width="1.1" fill="none" clip-path="url(#c7)"/>
<g clip-path="url(#c7)" fill="none" stroke-width="3.3" stroke-linejoin="miter">
<path d="M981.5 1499.5V1498.5H1029.5V1499.5H1473.5V1499.5H1518.5V1494.5H1562.5V1483.5H1607.5V1381.5H1652.5V1222.5H1696.5V1297.5H1760.5V1499.5" stroke="#0000ff"/>
<path d="M1342.5 1499.5V1499.5H1407.5V1498.5H1429.5V1495.5H1451.5V1493.5H1472.5V1489.5H1494.5V1470.5H1515.5V1435.5H1537.5V1383.5H1558.5V1356.5H1579.5V1354.5H1601.5V1388.5H1622.5V1430.5H1644.5V1463.5H1665.5V1482.5H1686.5V1493.5H1709.5V1496.5H1731.5V1499.5" stroke="#ffa500"/>
<path d="M1158.5 1499.5V1493.5H1186.5V1475.5H1213.5V1461.5H1241.5V1436.5H1268.5V1409.5H1296.5V1401.5H1323.5V1441.5H1351.5V1479.5H1378.5V1473.5H1406.5V1481.5H1433.5V1475.5H1461.5V1471.5H1488.5V1462.5H1516.5V1427.5H1543.5V1440.5H1571.5V1448.5H1598.5V1469.5H1626.5V1483.5H1654.5V1497.5H1681.5V1498.5H1709.5V1499.5" stroke="#008000"/>
</g>
<path d="M970.5 1499.5v4.6M1076.5 1499.5v4.6M1182.5 1499.5v4.6M1288.5 1499.5v4.6M1394.5 1499.5v4.6M1500.5 1499.5v4.6M1606.5 1499.5v4.6M1713.5 1499.5v4.6M970.5 1499.5h-4.6M970.5 1437.5h-4.6M970.5 1376.5h-4.6M970.5 1315.5h-4.6M970.5 1253.5h-4.6" stroke="#000" stroke-width="1.1" fill="none"/>
<rect x="970.5" y="1208.5" width="743" height="291" fill="none" stroke="#000" stroke-width="1.1"/>
<text id="p7x0_0" transform="translate(970.15 1526.2) scale(1.0300 1)" font-size="28.4" text-anchor="middle" letter-spacing="-0.7" xml:space="preserve">0.0</text>
<text id="p7x0_2" transform="translate(1076.15 1526.2) scale(1.0300 1)" font-size="28.4" text-anchor="middle" letter-spacing="-0.7" xml:space="preserve">0.2</text>
<text id="p7x0_4" transform="translate(1182.15 1526.2) scale(1.0300 1)" font-size="28.4" text-anchor="middle" letter-spacing="-0.7" xml:space="preserve">0.4</text>
<text id="p7x0_6" transform="translate(1288.15 1526.2) scale(1.0300 1)" font-size="28.4" text-anchor="middle" letter-spacing="-0.7" xml:space="preserve">0.6</text>
<text id="p7x0_8" transform="translate(1394.15 1526.2) scale(1.0300 1)" font-size="28.4" text-anchor="middle" letter-spacing="-0.7" xml:space="preserve">0.8</text>
<text id="p7x1_0" transform="translate(1500.15 1526.2) scale(1.0300 1)" font-size="28.4" text-anchor="middle" letter-spacing="-0.7" xml:space="preserve">1.0</text>
<text id="p7x1_2" transform="translate(1606.15 1526.2) scale(1.0300 1)" font-size="28.4" text-anchor="middle" letter-spacing="-0.7" xml:space="preserve">1.2</text>
<text id="p7x1_4" transform="translate(1713.15 1526.2) scale(1.0300 1)" font-size="28.4" text-anchor="middle" letter-spacing="-0.7" xml:space="preserve">1.4</text>
<text id="p7y0" transform="translate(961.5 1509.1) scale(1.0300 1)" font-size="28.4" text-anchor="end" letter-spacing="-0.7" xml:space="preserve">0</text>
<text id="p7y200" transform="translate(961.5 1447.1) scale(1.0300 1)" font-size="28.4" text-anchor="end" letter-spacing="-0.7" xml:space="preserve">200</text>
<text id="p7y400" transform="translate(961.5 1386.1) scale(1.0300 1)" font-size="28.4" text-anchor="end" letter-spacing="-0.7" xml:space="preserve">400</text>
<text id="p7y600" transform="translate(961.5 1325.1) scale(1.0300 1)" font-size="28.4" text-anchor="end" letter-spacing="-0.7" xml:space="preserve">600</text>
<text id="p7y800" transform="translate(961.5 1263.1) scale(1.0300 1)" font-size="28.4" text-anchor="end" letter-spacing="-0.7" xml:space="preserve">800</text>
<text id="p7off" transform="translate(1710.4 1554.1) scale(1.0300 1)" font-size="28.4" text-anchor="end" letter-spacing="-0.7" xml:space="preserve">1e11</text>
<text id="p7xl" transform="translate(1183.9 1560.7) scale(0.9824 1)" font-size="33.9" text-anchor="start" xml:space="preserve"><tspan>B2 brightness (ppb/</tspan><tspan font-style="italic">μm</tspan><tspan>)</tspan></text>
<g id="legend8">
<rect x="975.5" y="1213.5" width="214" height="62" rx="2.6" fill="#fff" fill-opacity="0.8" stroke="#ccc" stroke-opacity="0.8" stroke-width="1.1"/>
<rect x="980.5" y="1220.5" width="22" height="8" fill="none" stroke="#0000ff" stroke-width="3.3"/>
<text id="p7l0" transform="translate(1012 1227.9) scale(1.1012 1)" font-size="10" text-anchor="start" xml:space="preserve"><tspan>Injected:13.65e10 ppb/</tspan><tspan font-style="italic">μm</tspan><tspan> </tspan><tspan font-size="13.4" dx="0.2">±</tspan><tspan dx="0.9">9.91e9</tspan></text>
<rect x="980.5" y="1240.5" width="22" height="7" fill="none" stroke="#ffa500" stroke-width="3.3"/>
<text id="p7l1" transform="translate(1012 1247) scale(1.1082 1)" font-size="10" text-anchor="start" xml:space="preserve"><tspan>Start Ramp:11.51e10 ppb/</tspan><tspan font-style="italic">μm</tspan><tspan> </tspan><tspan font-size="13.4" dx="0.2">±</tspan><tspan dx="0.9">8.62e9</tspan></text>
<rect x="980.5" y="1259.5" width="22" height="8" fill="none" stroke="#008000" stroke-width="3.3"/>
<text id="p7l2" transform="translate(1012 1266.9) scale(1.0992 1)" font-size="10" text-anchor="start" xml:space="preserve"><tspan>End Ramp:8.1e10 ppb/</tspan><tspan font-style="italic">μm</tspan><tspan> </tspan><tspan font-size="13.4" dx="0.2">±</tspan><tspan dx="0.9">25.03e9</tspan></text>
</g>
</g>
</svg>
</body></html>
